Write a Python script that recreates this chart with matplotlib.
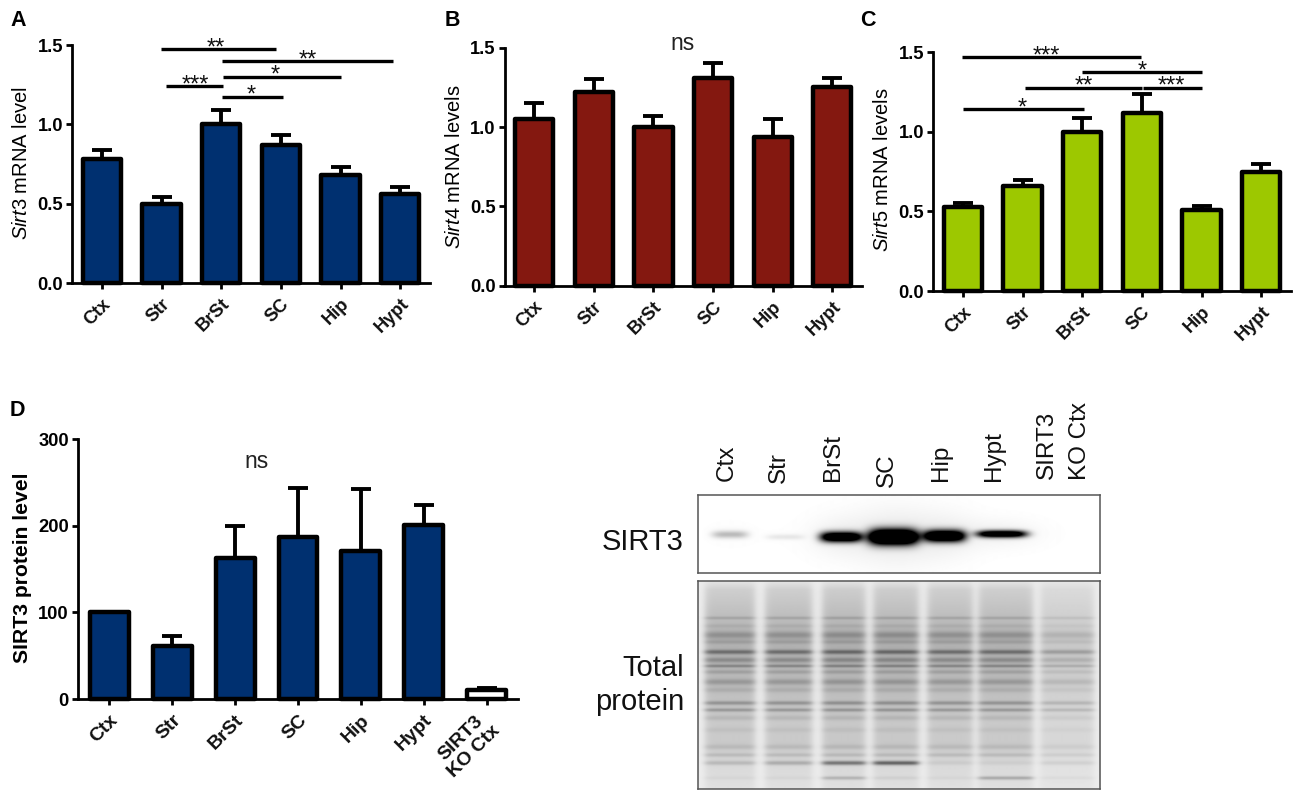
import numpy as np
import matplotlib
matplotlib.use("Agg")
import matplotlib.pyplot as plt
from matplotlib.transforms import ScaledTranslation

plt.rcParams['font.family'] = ['Liberation Sans', 'DejaVu Sans']
plt.rcParams['mathtext.fontset'] = 'custom'
plt.rcParams['mathtext.rm'] = 'Liberation Sans'
plt.rcParams['mathtext.it'] = 'Liberation Sans:italic'
plt.rcParams['mathtext.bf'] = 'Liberation Sans:bold'

W, H = 1300, 798

# ---------- data ----------
regions = ['Ctx', 'Str', 'BrSt', 'SC', 'Hip', 'Hypt']
regions_d = regions + ['SIRT3\nKO Ctx']

sirt3_vals = [0.78, 0.50, 1.00, 0.87, 0.68, 0.56]
sirt3_tops = [0.84, 0.545, 1.09, 0.935, 0.73, 0.605]
sirt4_vals = [1.05, 1.22, 1.00, 1.31, 0.94, 1.25]
sirt4_tops = [1.15, 1.30, 1.07, 1.405, 1.05, 1.31]
sirt5_vals = [0.53, 0.66, 1.00, 1.12, 0.51, 0.75]
sirt5_tops = [0.555, 0.70, 1.09, 1.24, 0.535, 0.795]
protein_vals = [100, 61, 163, 187, 171, 201, 10]
protein_tops = [100, 73, 200, 244, 242, 224, 13]

# significance: from-category, to-category, level, star category, stars
sig_a = [(0.99, 2.92, 1.473, 1.91, '**'),
         (2.01, 4.88, 1.397, 3.46, '**'),
         (2.03, 4.01, 1.300, 2.90, '*'),
         (1.07, 2.03, 1.240, 1.57, '***'),
         (2.01, 3.03, 1.174, 2.51, '*')]
sig_c = [(-0.01, 2.98, 1.471, 1.40, '***'),
         (2.00, 4.01, 1.375, 3.00, '*'),
         (1.04, 2.995, 1.278, 2.02, '**'),
         (3.02, 4.01, 1.278, 3.50, '***'),
         (0.00, 2.03, 1.144, 0.99, '*')]

NAVY, RED, GREEN = '#003070', '#841810', '#9dc800'

# blot lanes and bands (reference pixel coordinates)
blot_labels = ['Ctx', 'Str', 'BrSt', 'SC', 'Hip', 'Hypt', 'SIRT3', 'KO Ctx']
blot_label_x = [727, 779, 833, 887, 941, 994, 1047, 1080]
blot_label_bottom = [481, 483, 481, 487, 481, 481, 479, 480]

wb_x = [730, 785, 841, 893, 944, 1001]
wb_y = [534.5, 537, 537, 537, 536, 534]
wb_wx = [18, 19, 21, 25, 21, 25]
wb_wy = [3.8, 2.8, 5.2, 7.8, 6, 3.6]
wb_amp = [0.26, 0.09, 1.5, 2.0, 1.6, 1.4]

lane_left = [705, 765, 822, 873, 927, 978, 1040]
lane_right = [755, 812, 865, 918, 972, 1032, 1093]
lane_gain = [1.0, 1.0, 1.05, 1.05, 1.0, 1.0, 0.62]
band_y = [618, 626, 635, 642, 652, 660, 666, 672, 682, 690, 703, 710, 718, 730, 747, 755]
band_d = [.10, .05, .14, .08, .28, .17, .20, .10, .14, .07, .19, .18, .07, .04, .07, .09]
band_w = [1.6, 2.0, 3.5, 2.0, 2.3, 2.6, 1.6, 2.0, 3.0, 2.5, 2.0, 1.8, 2.5, 2.5, 2.5, 2.0]
low_band_y = [763, 763, 763, 763, 763, 763, 763]
low_band_d = [.12, .17, .38, .45, .05, .04, .06]
base_band_y = 778
base_band_d = [.03, .03, .16, .05, .03, .20, .03]
smear_y = [581, 590, 610, 640, 680, 720, 745, 765, 790]
smear_d = [.03, .12, .17, .24, .20, .14, .14, .08, .05]


def px_axes(l, t, r, b):
    return fig.add_axes([l / W, 1 - b / H, (r - l) / W, (b - t) / H])


def bars(ax, labels, vals, tops, colors, ylim, yticks, yfmt, width, catsize):
    x = np.arange(len(vals))
    vals = np.array(vals, float)
    up = np.array(tops, float) - vals
    ax.errorbar(x, vals, yerr=[np.zeros_like(up), up], fmt='none', ecolor='black',
                elinewidth=2.8, capsize=7.2, capthick=2.8, zorder=2, clip_on=False)
    ax.bar(x, vals, width=width, color=colors, edgecolor='black', linewidth=3.2,
           zorder=3, clip_on=False, joinstyle='round')
    ax.set_xlim(-0.5, len(vals) - 0.5)
    ax.set_ylim(*ylim)
    ax.set_yticks(yticks)
    ax.set_yticklabels([yfmt % t for t in yticks], fontsize=13.2, fontweight='bold')
    ax.set_xticks(x)
    ax.set_xticklabels(labels, rotation=45, ha='right', va='top', rotation_mode='anchor',
                       fontsize=catsize, fontweight='bold', color='#111111', multialignment='center')
    for s in ('top', 'right'):
        ax.spines[s].set_visible(False)
    for s in ('left', 'bottom'):
        ax.spines[s].set_linewidth(2.0)
    ax.tick_params(axis='both', length=4.5, width=2.0, pad=2)
    ax.tick_params(axis='x', pad=4.5)
    ax.patch.set_alpha(0)


def sig(ax, items):
    for x0, x1, y, xs, stars in items:
        ax.plot([x0, x1], [y, y], color='black', lw=2.4, solid_capstyle='butt', zorder=4, clip_on=False)
        ax.annotate(stars, (xs, y), xytext=(0, -3.8), textcoords='offset points', ha='center', va='baseline',
                    fontsize=17, color='#111111', annotation_clip=False)


fig = plt.figure(figsize=(W / 100, H / 100), dpi=100, facecolor='white')

ax_a = px_axes(72, 45, 430, 283)
bars(ax_a, regions, sirt3_vals, sirt3_tops, NAVY, (0, 1.5), [0, 0.5, 1.0, 1.5], '%.1f', 0.64, 13.2)
sig(ax_a, sig_a)

ax_b = px_axes(504.5, 47.7, 862, 285.7)
bars(ax_b, regions, sirt4_vals, sirt4_tops, RED, (0, 1.5), [0, 0.5, 1.0, 1.5], '%.1f', 0.64, 13.2)

ax_c = px_axes(933, 52.3, 1291, 291)
bars(ax_c, regions, sirt5_vals, sirt5_tops, GREEN, (0, 1.5), [0, 0.5, 1.0, 1.5], '%.1f', 0.64, 13.2)
sig(ax_c, sig_c)

ax_d = px_axes(78, 439, 518, 699)
bars(ax_d, regions_d, protein_vals, protein_tops, [NAVY] * 6 + ['white'], (0, 300), [0, 100, 200, 300], '%d', 0.62, 14)
ko_label = ax_d.get_xticklabels()[-1]
ko_label.set_transform(ko_label.get_transform() + ScaledTranslation(-9 / 100, 3 / 100, fig.dpi_scale_trans))


def ftext(x, y, s, **kw):
    return fig.text(x / W, 1 - y / H, s, **kw)


for x, y, s in [(10, 20, 'A'), (445, 20, 'B'), (860, 20, 'C'), (10, 410, 'D')]:
    ftext(x, y, s, fontsize=15.5, fontweight='bold', ha='left', va='center')

for x, y, s in [(22, 163, r'$\mathit{Sirt3}$ mRNA level'),
                (454, 167, r'$\mathit{Sirt4}$ mRNA levels'),
                (882, 170, r'$\mathit{Sirt5}$ mRNA levels')]:
    ftext(x, y, s, fontsize=14.5, rotation=90, ha='center', va='center')
ftext(23, 568, 'SIRT3 protein level', fontsize=15.2, fontweight='bold', rotation=90, ha='center', va='center')

ftext(683, 44, 'ns', fontsize=16.5, ha='center', va='center', color='#222222')
ftext(257, 462, 'ns', fontsize=16.5, ha='center', va='center', color='#222222')

# ---------- blots ----------
for x, y, s in zip(blot_label_x, blot_label_bottom, blot_labels):
    ftext(x, y, s, fontsize=17.5, rotation=90, ha='center', va='bottom', color='#111111')
ftext(684, 542, 'SIRT3', fontsize=21, ha='right', va='center', color='#111111')
ftext(684, 685, 'Total\nprotein', fontsize=21, ha='right', va='center', color='#111111', linespacing=1.3)

# western blot image
L, R = 698, 1100
T1, B1 = 495, 573
xx, yy = np.meshgrid(np.arange(L, R) + .5, np.arange(T1, B1) + .5)
d = np.zeros_like(xx)
for x0, y0, wx, wy, a in zip(wb_x, wb_y, wb_wx, wb_wy, wb_amp):
    d += a * np.exp(-np.abs((xx - x0) / wx) ** 4 - ((yy - y0) / wy) ** 2)
    d += 0.035 * a * np.exp(-((xx - x0) / (wx * 1.6)) ** 2 - ((yy - y0) / (wy * 4.0)) ** 2)
ax_w = px_axes(L, T1, R, B1)
ax_w.imshow(1 - np.clip(d, 0, 1), cmap='gray', vmin=0, vmax=1, aspect='auto', interpolation='bilinear')
ax_w.set_xticks([]); ax_w.set_yticks([])
for s in ax_w.spines.values():
    s.set_color('#555555'); s.set_linewidth(1.1)

# total protein image
T2, B2 = 581, 789
xx, yy = np.meshgrid(np.arange(L, R) + .5, np.arange(T2, B2) + .5)
d = np.full_like(xx, 0.07)
smear = np.interp(yy, smear_y, smear_d)
for i, (l, r, g) in enumerate(zip(lane_left, lane_right, lane_gain)):
    mask = 0.5 * (np.tanh((xx - l) / 4.0) - np.tanh((xx - r) / 4.0))
    prof = smear.copy()
    for y0, a, w in zip(band_y, band_d, band_w):
        prof = prof + a * np.exp(-((yy - y0) / w) ** 2)
    prof = prof * g
    prof = prof + low_band_d[i] * np.exp(-((yy - low_band_y[i]) / 2.2) ** 2)
    prof = prof + base_band_d[i] * np.exp(-((yy - base_band_y) / 1.8) ** 2)
    d += mask * prof
ax_p = px_axes(L, T2, R, B2)
ax_p.imshow(1 - np.clip(d, 0, 1), cmap='gray', vmin=0, vmax=1, aspect='auto', interpolation='bilinear')
ax_p.set_xticks([]); ax_p.set_yticks([])
for s in ax_p.spines.values():
    s.set_color('#555555'); s.set_linewidth(1.1)

fig.savefig('out.png', dpi=100, facecolor='white')
